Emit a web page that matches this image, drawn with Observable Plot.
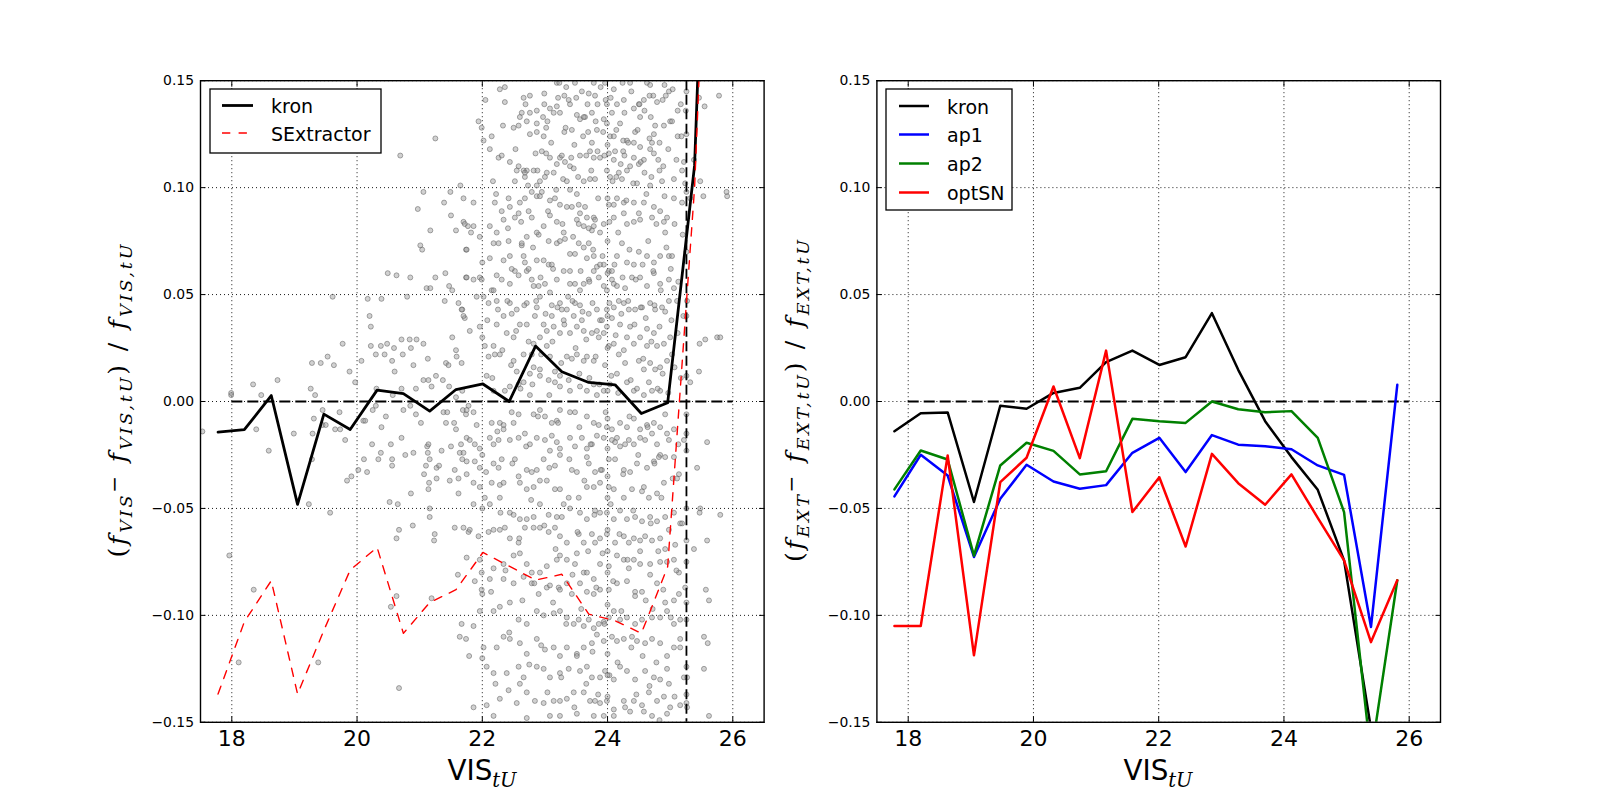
<!DOCTYPE html>
<html>
<head>
<meta charset="utf-8">
<script src="https://cdn.jsdelivr.net/npm/d3@7"></script>
<script src="https://cdn.jsdelivr.net/npm/@observablehq/plot@0.6"></script>
<style>
  html, body { margin: 0; padding: 0; background: #fff; }
  #fig { position: relative; width: 1600px; height: 802px; background: #fff; overflow: hidden; }
  #fig > .panel { position: absolute; top: 0; }
  #overlay { position: absolute; left: 0; top: 0; pointer-events: none; }
</style>
</head>
<body>
<div id="fig">
  <div class="panel" id="left" style="left:0px"></div>
  <div class="panel" id="right" style="left:800px"></div>
  <svg id="overlay" width="1600" height="802" xmlns="http://www.w3.org/2000/svg">
    <!-- y labels -->
    <text transform="translate(126,401) rotate(-90)" text-anchor="middle" font-family="DejaVu Serif" font-size="25" fill="#000" textLength="313" lengthAdjust="spacing"><tspan>(</tspan><tspan font-style="italic">f</tspan><tspan font-style="italic" font-size="17.5" dy="6">VIS</tspan><tspan font-size="20" dy="-11">−</tspan><tspan dy="5" font-style="italic"> f</tspan><tspan font-style="italic" font-size="17.5" dy="6">VIS,tU</tspan><tspan dy="-6">) / </tspan><tspan font-style="italic">f</tspan><tspan font-style="italic" font-size="17.5" dy="6">VIS,tU</tspan></text>
    <text transform="translate(803,401) rotate(-90)" text-anchor="middle" font-family="DejaVu Serif" font-size="25" fill="#000" textLength="322" lengthAdjust="spacing"><tspan>(</tspan><tspan font-style="italic">f</tspan><tspan font-style="italic" font-size="17.5" dy="6">EXT</tspan><tspan font-size="20" dy="-11">−</tspan><tspan dy="5" font-style="italic"> f</tspan><tspan font-style="italic" font-size="17.5" dy="6">EXT,tU</tspan><tspan dy="-6">) / </tspan><tspan font-style="italic">f</tspan><tspan font-style="italic" font-size="17.5" dy="6">EXT,tU</tspan></text>
    <!-- x labels -->
    <text x="482" y="780" text-anchor="middle" fill="#000"><tspan font-family="DejaVu Sans" font-size="27.8">VIS</tspan><tspan font-family="DejaVu Serif" font-style="italic" font-size="19.5" dy="7">tU</tspan></text>
    <text x="1158" y="780" text-anchor="middle" fill="#000"><tspan font-family="DejaVu Sans" font-size="27.8">VIS</tspan><tspan font-family="DejaVu Serif" font-style="italic" font-size="19.5" dy="7">tU</tspan></text>
    <!-- left legend -->
    <g font-family="DejaVu Sans" font-size="19" fill="#000">
      <rect x="210" y="89" width="171" height="64" fill="#fff" stroke="#000" stroke-width="1.3"/>
      <line x1="222" y1="105.5" x2="253" y2="105.5" stroke="#000" stroke-width="2.8"/>
      <text x="271" y="113">kron</text>
      <line x1="222" y1="133" x2="253" y2="133" stroke="#ff0000" stroke-width="1.4" stroke-dasharray="8.3,8.3"/>
      <text x="271" y="140.5">SExtractor</text>
    </g>
    <!-- right legend -->
    <g font-family="DejaVu Sans" font-size="19" fill="#000">
      <rect x="886" y="89" width="126" height="121" fill="#fff" stroke="#000" stroke-width="1.3"/>
      <line x1="899" y1="106" x2="929" y2="106" stroke="#000" stroke-width="2.5"/>
      <text x="947" y="113.5">kron</text>
      <line x1="899" y1="134.5" x2="929" y2="134.5" stroke="#0000ff" stroke-width="2.5"/>
      <text x="947" y="142">ap1</text>
      <line x1="899" y1="163.5" x2="929" y2="163.5" stroke="#008000" stroke-width="2.5"/>
      <text x="947" y="171">ap2</text>
      <line x1="899" y1="192.5" x2="929" y2="192.5" stroke="#ff0000" stroke-width="2.5"/>
      <text x="947" y="200">optSN</text>
    </g>
  </svg>
</div>
<script>
// ---------------- data ----------------
const xTicks = [18, 20, 22, 24, 26];
const yTicks = [-0.15, -0.10, -0.05, 0.00, 0.05, 0.10, 0.15];
const zeroSpan = [18, 26];
const limitMag = [25.26];

const binMag = [17.78, 18.20, 18.63, 19.05, 19.47, 19.89, 20.32, 20.74, 21.16, 21.58,
                22.01, 22.43, 22.85, 23.27, 23.70, 24.12, 24.54, 24.96, 25.39, 25.81];

// left panel
const kronVIS = [-0.0143, -0.0132, 0.0028, -0.0481, -0.0059, -0.0131, 0.0053, 0.0037, -0.0045, 0.0056,
                 0.0082, 0.0000, 0.0259, 0.0139, 0.0089, 0.0078, -0.0056, -0.0006, 0.1104, 0.45];
const sexVIS  = [-0.1368, -0.1030, -0.0838, -0.1368, -0.1070, -0.0788, -0.0682, -0.1084, -0.0940, -0.0880,
                 -0.0706, -0.0770, -0.0835, -0.0808, -0.0994, -0.1025, -0.1084, -0.0773, 0.1000, 0.40];

// right panel
const kronEXT  = [-0.0139, -0.0055, -0.0051, -0.0470, -0.0020, -0.0034, 0.0040, 0.0064, 0.0184, 0.0238,
                  0.0171, 0.0207, 0.0413, 0.0148, -0.0092, -0.0260, -0.0413, -0.0743, -0.153, null];
const ap1EXT   = [-0.0444, -0.0249, -0.0346, -0.0727, -0.0455, -0.0296, -0.0374, -0.0408, -0.0391, -0.0240,
                  -0.0170, -0.0330, -0.0157, -0.0202, -0.0209, -0.0223, -0.0299, -0.0343, -0.1054, 0.0078];
const ap2EXT   = [-0.0411, -0.0229, -0.0271, -0.0721, -0.0299, -0.0193, -0.0231, -0.0341, -0.0326, -0.0081,
                  -0.0092, -0.0100, 0.0000, -0.0036, -0.0050, -0.0045, -0.0170, -0.0517, -0.166, -0.0836];
const optSNEXT = [-0.1050, -0.1050, -0.0252, -0.1187, -0.0377, -0.0263, 0.0070, -0.0265, 0.0238, -0.0517,
                  -0.0354, -0.0678, -0.0245, -0.0382, -0.0483, -0.0341, -0.0544, -0.0743, -0.1125, -0.0836];

// individual objects: [VIS_tU magnitude, relative flux difference]
const scatterPts = [
// bright / sparse part
[17.53,-0.014],[17.99,0.003],[17.96,-0.072],[18.35,-0.088],[18.11,-0.122],[18.39,-0.013],[18.59,-0.023],[18.99,-0.015],
[19.23,-0.048],[19.28,-0.027],[19.29,-0.015],[19.31,-0.008],[19.45,-0.004],[19.45,-0.011],[19.50,-0.011],[19.57,-0.052],
[19.38,-0.122],[19.65,-0.013],[19.73,-0.013],[19.72,-0.005],[19.81,-0.018],[19.84,-0.037],[19.91,-0.035],[20.02,-0.032],
[20.10,-0.009],[20.13,-0.009],[20.11,-0.027],[20.16,-0.033],[20.24,-0.020],[20.34,-0.027],[20.38,-0.024],[20.39,-0.012],
[20.46,-0.007],[20.25,-0.004],[20.30,-0.002],[20.52,-0.047],[20.65,-0.048],[20.63,-0.064],[20.67,-0.060],[20.54,-0.020],
[20.56,-0.027],[20.56,-0.030],[20.63,-0.091],[20.54,-0.096],[20.67,-0.134],[20.71,-0.017],[20.77,-0.025],[20.74,-0.004],
[20.85,-0.002],[20.86,-0.043],[20.89,-0.058],[20.90,-0.024],[20.94,-0.006],[21.02,-0.010],[21.07,-0.034],[21.10,-0.030],
[21.12,-0.021],[21.14,-0.020],[21.13,-0.024],[21.16,-0.027],[21.15,-0.038],[21.14,-0.041],[21.16,-0.050],[21.16,-0.054],
[21.23,-0.065],[21.24,-0.062],[21.19,-0.092],[21.27,-0.031],[21.27,-0.036],[21.31,-0.030],[21.35,-0.023],[21.38,-0.005],
[21.42,-0.010],[21.44,-0.005],[21.50,-0.021],[21.48,-0.037],[21.56,-0.032],[21.62,-0.036],[21.62,-0.043],[21.64,-0.024],
[21.66,-0.020],[21.68,-0.027],[21.56,-0.059],[21.61,-0.081],[21.64,-0.110],[21.74,-0.111],[21.79,-0.119],[21.78,-0.061],
[21.58,-0.013],[21.55,-0.010],[21.69,-0.004],[21.78,-0.002],[21.74,-0.006],
[21.25,0.123],[20.69,0.115],[19.61,0.049],[19.77,0.027],[19.28,0.018],[19.42,0.018],[19.53,0.021],[19.63,0.017],
[19.88,0.014],[19.97,0.009],[18.73,0.010],[18.34,0.008],[18.47,0.003],[19.26,0.006],[19.33,0.003],[17.99,0.004],
[20.07,0.019],[20.22,0.026],[20.20,0.040],[20.17,0.048],[20.39,0.048],[20.49,0.060],[20.63,0.059],[20.85,0.058],
[20.97,0.090],[21.06,0.098],[21.49,0.098],[21.39,0.093],[21.50,0.087],[21.17,0.080],[21.01,0.073],[21.04,0.071],
[21.65,0.101],[21.70,0.084],[21.58,0.080],[21.74,0.071],[20.80,0.049],[21.11,0.053],[21.17,0.053],[21.25,0.058],
[21.41,0.060],[21.47,0.054],[21.40,0.047],[21.68,0.043],[20.22,0.035],[20.30,0.022],[20.44,0.022],[20.38,0.026],
[20.48,0.027],[20.59,0.025],[20.71,0.029],[20.84,0.029],[20.95,0.029],[21.06,0.027],[20.56,0.019],[20.60,0.014],
[20.73,0.022],[20.86,0.025],[20.90,0.017],[21.13,0.020],[21.14,0.010],[21.26,0.012],[21.37,0.010],[21.42,0.018],
[21.46,0.017],[21.52,0.030],[21.58,0.024],[21.59,0.021],[21.67,0.018],[21.47,0.007],[21.58,0.002],[21.68,0.005],
[20.31,0.006],[20.57,0.003],[20.71,0.006],[20.94,0.006],[21.06,0.010],[21.19,0.007],[21.52,0.052],[21.62,0.046],
[21.74,0.058],[21.77,0.082],
// faint part, upper half
[22.28,0.146],[22.36,0.147],[22.66,0.142],[22.76,0.143],[22.99,0.144],[23.19,0.149],[23.23,0.149],[23.34,0.147],
[23.48,0.149],[23.78,0.149],[23.96,0.149],[24.10,0.146],[24.24,0.149],[24.36,0.149],[24.63,0.149],[24.68,0.148],
[24.91,0.148],[24.98,0.145],[24.93,0.143],[24.73,0.143],[24.58,0.141],[24.50,0.139],[24.26,0.141],[24.15,0.139],
[23.99,0.139],[23.97,0.141],[23.84,0.139],[23.80,0.143],[23.70,0.144],[23.59,0.145],[23.40,0.139],[23.38,0.141],
[23.31,0.143],[23.19,0.138],[23.08,0.137],[22.99,0.139],[22.87,0.136],[22.76,0.135],[22.63,0.135],[22.36,0.140],
[21.94,0.131],[22.60,0.133],[22.87,0.130],[23.51,0.134],[23.64,0.133],[23.75,0.135],[23.94,0.132],[24.07,0.135],
[24.42,0.137],[24.51,0.139],[24.52,0.133],[24.69,0.133],[24.79,0.140],[25.00,0.131],[25.12,0.136],[25.25,0.136],
[25.55,0.138],[25.78,0.143],
[21.99,0.128],[22.02,0.122],[22.15,0.124],[22.26,0.114],[22.31,0.115],[22.50,0.128],[22.58,0.129],[22.71,0.131],
[22.76,0.125],[22.87,0.126],[22.98,0.124],[23.02,0.128],[23.04,0.131],[23.14,0.135],[23.24,0.135],[23.31,0.126],
[23.43,0.127],[23.47,0.120],[23.56,0.132],[23.62,0.133],[23.69,0.126],[23.75,0.121],[23.83,0.127],[23.93,0.126],
[23.99,0.130],[24.04,0.124],[24.10,0.124],[24.20,0.130],[24.25,0.122],[24.31,0.122],[24.42,0.121],[24.44,0.126],
[24.52,0.119],[24.67,0.123],[24.71,0.121],[24.74,0.125],[24.83,0.121],[24.90,0.129],[25.03,0.131],[25.12,0.124],
[25.18,0.124],[23.02,0.116],[22.95,0.117],[23.08,0.114],[23.24,0.114],[23.27,0.115],[23.32,0.112],[23.40,0.110],
[23.46,0.109],[23.56,0.115],[23.66,0.115],[23.72,0.117],[23.78,0.114],[23.84,0.117],[23.88,0.114],[24.02,0.116],
[24.12,0.117],[24.25,0.117],[24.27,0.115],[24.36,0.110],[24.42,0.114],[24.50,0.111],[24.58,0.113],[24.68,0.118],
[24.74,0.116],[24.83,0.108],[24.89,0.110],[25.19,0.108],[25.38,0.113],[22.44,0.112],[22.58,0.110],[22.55,0.108],
[22.71,0.108],[22.88,0.108],[23.19,0.111],[24.10,0.113],[22.66,0.108],[22.68,0.105],[22.82,0.108],
[22.17,0.103],[22.52,0.103],[22.68,0.107],[22.87,0.101],[22.92,0.103],[23.00,0.105],[23.03,0.107],[23.14,0.107],
[23.29,0.104],[23.35,0.103],[23.40,0.099],[23.51,0.097],[23.62,0.103],[23.72,0.104],[23.80,0.104],[23.99,0.108],
[24.04,0.105],[24.14,0.105],[24.18,0.107],[24.23,0.104],[24.31,0.108],[24.47,0.102],[24.59,0.107],[24.68,0.101],
[24.87,0.103],[25.06,0.104],[25.24,0.102],[25.32,0.095],[25.48,0.103],[21.70,0.095],[21.72,0.083],[21.86,0.093],
[21.86,0.082],[21.82,0.079],[21.75,0.071],[22.20,0.093],[22.31,0.089],[22.42,0.095],[22.44,0.091],[22.52,0.086],
[22.60,0.093],[22.68,0.095],[22.79,0.098],[22.87,0.096],[22.95,0.098],[22.92,0.096],[23.08,0.094],[23.16,0.095],
[23.24,0.092],[23.35,0.091],[23.43,0.091],[23.54,0.092],[23.56,0.088],[23.62,0.082],[23.67,0.086],[23.75,0.080],
[23.78,0.086],[23.88,0.079],[24.02,0.092],[24.10,0.092],[24.15,0.095],[24.26,0.093],[24.42,0.093],[24.58,0.093],
[24.74,0.091],[24.84,0.089],[24.95,0.086],[25.06,0.095],[25.19,0.093],[25.53,0.096],[25.91,0.096],[22.12,0.082],
[22.23,0.079],[22.34,0.085],[22.58,0.088],[22.74,0.089],[22.79,0.086],[22.90,0.078],[22.98,0.082],[23.08,0.087],
[23.19,0.084],[23.30,0.079],[23.51,0.085],[23.54,0.083],[23.70,0.081],[23.80,0.085],[23.94,0.083],[24.10,0.086],
[24.26,0.088],[24.31,0.083],[24.42,0.084],[24.52,0.085],[24.71,0.086],[24.90,0.084],[24.92,0.079],[21.96,0.077],
[22.18,0.074],[22.26,0.074],[22.42,0.075],[22.63,0.073],[22.71,0.077],[22.87,0.079],[23.06,0.075],[23.78,0.082],
[21.75,0.058],[21.86,0.057],[21.67,0.043],[21.72,0.039],[21.91,0.049],[21.96,0.058],[21.99,0.057],[22.12,0.067],
[22.15,0.052],[22.23,0.059],[22.34,0.066],[22.44,0.068],[22.52,0.061],[22.63,0.074],[22.66,0.068],[22.68,0.065],
[22.71,0.061],[22.79,0.057],[22.87,0.066],[22.98,0.066],[23.06,0.064],[23.11,0.064],[23.19,0.074],[23.24,0.075],
[23.32,0.076],[23.40,0.069],[23.48,0.069],[23.54,0.074],[23.62,0.072],[23.70,0.074],[23.67,0.067],[23.78,0.068],
[23.83,0.063],[23.94,0.064],[23.88,0.064],[24.02,0.061],[24.07,0.061],[24.15,0.068],[24.23,0.074],[24.31,0.065],
[24.42,0.064],[24.50,0.070],[24.63,0.068],[24.74,0.065],[24.84,0.068],[24.98,0.068],[25.03,0.068],[23.40,0.055],
[23.48,0.055],[23.56,0.052],[23.62,0.055],[23.70,0.057],[23.78,0.061],[23.86,0.058],[23.94,0.054],[23.99,0.052],
[24.07,0.057],[24.10,0.055],[24.15,0.054],[24.28,0.053],[24.39,0.058],[24.52,0.058],[24.63,0.054],[24.74,0.060],
[24.84,0.055],[24.98,0.057],[25.06,0.053],[22.74,0.062],[22.82,0.054],[22.90,0.054],[23.08,0.051],[23.19,0.057],
[23.30,0.061],[23.40,0.061],[22.58,0.059],[22.44,0.055],[22.31,0.057],[22.18,0.052],[22.02,0.049],[22.10,0.046],
[22.23,0.047],[22.44,0.046],[22.55,0.043],[22.71,0.046],[22.87,0.044],[22.92,0.049],[23.00,0.055],[23.11,0.045],
[23.24,0.046],[23.27,0.043],[23.35,0.043],[23.48,0.046],[23.56,0.045],[23.70,0.041],[23.83,0.043],[23.99,0.043],
[24.10,0.044],[24.18,0.047],[24.26,0.046],[24.34,0.043],[24.44,0.043],[24.55,0.044],[24.68,0.046],[24.76,0.043],
[24.87,0.044],[24.98,0.047],[25.11,0.047],[25.27,0.047],[25.56,0.029],[25.75,0.030],
[21.70,0.040],[21.80,0.033],[21.96,0.035],[22.04,0.026],[22.10,0.021],[22.18,0.026],[22.20,0.022],[22.28,0.022],
[22.50,0.019],[22.55,0.014],[22.66,0.022],[22.71,0.036],[22.79,0.022],[22.82,0.016],[22.92,0.015],[23.03,0.026],
[23.08,0.021],[23.16,0.014],[23.24,0.012],[23.35,0.021],[23.43,0.020],[23.51,0.022],[23.62,0.019],[23.67,0.021],
[23.78,0.019],[23.83,0.033],[23.86,0.030],[23.94,0.032],[24.02,0.026],[24.10,0.027],[24.18,0.022],[24.26,0.024],
[24.31,0.030],[24.36,0.035],[24.42,0.027],[24.50,0.019],[24.58,0.015],[24.68,0.018],[24.76,0.015],[24.84,0.016],
[24.95,0.019],[25.03,0.022],[22.07,0.012],[22.18,0.005],[22.36,0.005],[22.44,0.007],[22.58,0.008],[22.66,0.009],
[22.76,0.013],[22.92,0.012],[23.06,0.010],[23.16,0.009],[23.24,0.007],[23.40,0.005],[23.56,0.007],[23.67,0.005],
[23.78,0.008],[23.83,0.003],[23.94,0.005],[24.04,0.008],[24.15,0.013],[24.31,0.009],[24.42,0.005],[24.58,0.003],
[24.71,0.005],[24.84,0.005],[23.03,0.033],[23.14,0.035],[23.24,0.032],[23.40,0.032],[23.51,0.035],[23.62,0.033],
[23.75,0.032],[22.92,0.030],[22.82,0.027],[22.50,0.030],[22.39,0.032],[22.23,0.036],[22.34,0.040],[22.47,0.041],
[22.60,0.036],[22.84,0.040],[22.98,0.036],[23.11,0.040],[23.30,0.038],[23.46,0.040],[23.59,0.038],[23.88,0.038],
[23.99,0.035],[24.07,0.039],[24.20,0.036],[24.63,0.034],[24.74,0.032],[24.90,0.027],[25.00,0.030],[24.63,0.026],
[24.52,0.030],[24.79,0.026],[25.46,0.014],[25.32,0.009],
[22.05,0.141],[22.12,0.118],[22.22,0.097],[22.33,0.129],[22.41,0.081],[22.47,0.062],[22.53,0.118],[22.62,0.084],
[22.69,0.139],[22.73,0.101],[22.81,0.072],[22.85,0.116],[22.93,0.058],[22.97,0.133],[23.05,0.089],[23.10,0.121],
[23.13,0.062],[23.18,0.099],[23.21,0.142],[23.28,0.083],[23.33,0.128],[23.37,0.049],[23.42,0.114],[23.45,0.077],
[23.50,0.142],[23.53,0.105],[23.57,0.061],[23.61,0.124],[23.64,0.091],[23.68,0.139],[23.71,0.056],[23.74,0.108],
[23.77,0.071],[23.81,0.131],[23.85,0.095],[23.89,0.147],[23.92,0.068],[23.95,0.115],[24.03,0.084],[24.05,0.142],
[24.08,0.103],[24.11,0.064],[24.14,0.127],[24.17,0.079],[24.21,0.111],[24.24,0.058],[24.27,0.135],[24.30,0.094],
[24.33,0.121],[24.35,0.071],[24.38,0.145],[24.41,0.102],[24.45,0.057],[24.48,0.127],[24.50,0.088],[24.53,0.112],
[24.56,0.064],[24.59,0.136],[24.62,0.097],[24.65,0.075],[24.67,0.143],[24.70,0.105],[24.73,0.061],[24.76,0.129],
[24.78,0.083],[24.81,0.113],[24.85,0.052],[24.88,0.141],[24.91,0.096],[24.94,0.072],[24.97,0.118],[25.01,0.062],
[25.04,0.146],[25.07,0.083],[25.10,0.113],[25.13,0.056],[25.17,0.139],[25.20,0.078],[25.22,0.112],
[22.08,0.038],[22.16,0.011],[22.25,0.043],[22.32,0.024],[22.40,0.047],[22.46,0.017],[22.54,0.033],[22.61,0.006],
[22.67,0.045],[22.74,0.028],[22.80,0.008],[22.86,0.047],[22.94,0.022],[23.01,0.041],[23.07,0.003],[23.12,0.028],
[23.20,0.044],[23.26,0.018],[23.31,0.036],[23.38,0.010],[23.44,0.047],[23.49,0.025],[23.55,0.013],[23.60,0.042],
[23.66,0.029],[23.71,0.011],[23.76,0.046],[23.81,0.021],[23.87,0.008],[23.91,0.038],[23.96,0.017],[24.03,0.046],
[24.06,0.012],[24.13,0.031],[24.17,0.004],[24.22,0.041],[24.28,0.018],[24.33,0.047],[24.37,0.010],[24.43,0.036],
[24.47,0.006],[24.53,0.044],[24.57,0.020],[24.61,0.039],[24.66,0.009],[24.70,0.028],[24.75,0.045],[24.80,0.006],
[24.83,0.035],[24.88,0.013],[24.92,0.042],[24.97,0.004],[25.02,0.038],[25.07,0.016],[25.12,0.032],[25.17,0.011],
[25.21,0.040],
// faint part, lower half
[21.75,-0.004],[21.86,-0.005],[21.91,-0.011],[22.15,-0.010],[22.28,-0.010],[22.34,-0.011],[22.47,-0.005],[22.50,-0.010],
[22.58,-0.006],[22.76,0.003],[22.82,-0.006],[22.92,-0.004],[23.00,-0.007],[23.11,-0.010],[23.19,-0.009],[23.24,-0.004],
[23.40,-0.005],[23.48,-0.005],[23.67,-0.007],[23.78,-0.010],[23.86,-0.011],[23.99,-0.012],[24.07,-0.013],[24.20,-0.010],
[24.31,-0.012],[24.42,-0.008],[24.52,-0.013],[24.63,-0.011],[24.74,-0.010],[24.84,-0.012],[24.95,-0.015],[25.06,-0.013],
[21.75,-0.017],[21.80,-0.018],[21.88,-0.020],[21.96,-0.022],[22.12,-0.017],[22.18,-0.020],[22.26,-0.018],[22.34,-0.013],
[22.44,-0.018],[22.58,-0.017],[22.68,-0.015],[22.76,-0.020],[22.87,-0.017],[23.00,-0.018],[23.11,-0.016],[23.19,-0.019],
[23.24,-0.022],[23.40,-0.017],[23.48,-0.021],[23.59,-0.017],[23.67,-0.022],[23.75,-0.020],[23.83,-0.016],[23.94,-0.017],
[24.07,-0.018],[24.15,-0.017],[24.20,-0.021],[24.28,-0.020],[24.34,-0.018],[24.42,-0.020],[24.52,-0.017],[24.60,-0.018],
[24.71,-0.015],[24.79,-0.020],[24.84,-0.025],[24.98,-0.018],[25.22,-0.018],[25.59,-0.019],
[21.70,-0.024],[21.75,-0.028],[21.88,-0.028],[21.96,-0.031],[22.18,-0.029],[22.26,-0.031],[22.31,-0.027],[22.52,-0.027],
[22.58,-0.035],[22.71,-0.032],[22.79,-0.033],[22.87,-0.032],[22.98,-0.027],[23.08,-0.023],[23.16,-0.030],[23.24,-0.025],
[23.43,-0.032],[23.51,-0.033],[23.67,-0.026],[23.70,-0.029],[23.80,-0.033],[23.91,-0.032],[24.02,-0.027],[24.12,-0.027],
[24.26,-0.032],[24.36,-0.033],[24.47,-0.029],[24.63,-0.031],[24.74,-0.028],[24.82,-0.026],[24.92,-0.026],[25.06,-0.026],
[25.14,-0.034],[25.43,-0.031],
[21.75,-0.034],[21.86,-0.038],[21.96,-0.040],[22.15,-0.038],[22.28,-0.039],[22.34,-0.038],[22.60,-0.038],[22.71,-0.041],
[22.82,-0.040],[22.92,-0.037],[23.03,-0.037],[23.16,-0.041],[23.24,-0.041],[23.38,-0.045],[23.54,-0.045],[23.67,-0.040],
[23.78,-0.040],[23.88,-0.038],[24.02,-0.040],[24.10,-0.041],[24.26,-0.045],[24.39,-0.041],[24.55,-0.042],[24.66,-0.045],
[24.79,-0.043],[24.90,-0.038],[25.11,-0.036],
[21.86,-0.048],[22.04,-0.045],[22.12,-0.048],[22.28,-0.045],[22.44,-0.052],[22.50,-0.053],[22.60,-0.055],[22.71,-0.055],
[22.82,-0.054],[22.92,-0.048],[23.06,-0.053],[23.19,-0.054],[23.27,-0.054],[23.40,-0.050],[23.56,-0.052],[23.67,-0.055],
[23.80,-0.051],[23.88,-0.052],[23.99,-0.052],[24.10,-0.055],[24.20,-0.051],[24.31,-0.055],[24.44,-0.054],[24.55,-0.056],
[24.68,-0.054],[24.79,-0.056],[24.92,-0.054],[25.06,-0.052],[25.16,-0.057],[25.48,-0.050],
[21.70,-0.059],[21.80,-0.060],[21.94,-0.063],[22.18,-0.060],[22.28,-0.060],[22.36,-0.059],[22.44,-0.064],[22.58,-0.066],
[22.68,-0.059],[22.82,-0.059],[22.92,-0.059],[23.06,-0.061],[23.16,-0.059],[23.24,-0.063],[23.35,-0.066],[23.54,-0.062],
[23.62,-0.066],[23.75,-0.062],[23.80,-0.066],[23.88,-0.064],[23.99,-0.062],[24.12,-0.066],[24.26,-0.063],[24.34,-0.066],
[24.42,-0.064],[24.52,-0.065],[24.60,-0.063],[24.71,-0.065],[24.84,-0.064],[24.92,-0.069],[25.08,-0.067],[25.38,-0.069],
[25.59,-0.065],
[21.75,-0.073],[21.96,-0.074],[21.99,-0.080],[22.18,-0.078],[22.34,-0.076],[22.50,-0.072],[22.60,-0.071],[22.71,-0.076],
[22.79,-0.080],[22.92,-0.080],[23.03,-0.077],[23.19,-0.074],[23.24,-0.072],[23.35,-0.074],[23.48,-0.076],[23.51,-0.071],
[23.62,-0.080],[23.67,-0.080],[23.78,-0.083],[23.88,-0.076],[24.02,-0.077],[24.15,-0.072],[24.26,-0.074],[24.34,-0.078],
[24.42,-0.074],[24.52,-0.076],[24.68,-0.076],[24.84,-0.075],[24.95,-0.075],[25.06,-0.074],[25.14,-0.080],
[21.88,-0.084],[21.99,-0.088],[22.12,-0.083],[22.34,-0.083],[22.50,-0.085],[22.66,-0.082],[22.79,-0.085],[22.90,-0.090],
[23.03,-0.087],[23.08,-0.086],[23.22,-0.087],[23.24,-0.088],[23.35,-0.085],[23.43,-0.090],[23.56,-0.085],[23.67,-0.089],
[23.78,-0.090],[23.88,-0.088],[24.02,-0.088],[24.15,-0.085],[24.31,-0.084],[24.44,-0.089],[24.55,-0.089],[24.68,-0.081],
[24.79,-0.085],[24.92,-0.094],[25.06,-0.093],[25.14,-0.090],[25.62,-0.093],
[21.67,-0.104],[21.86,-0.105],[21.96,-0.098],[22.18,-0.098],[22.28,-0.096],[22.44,-0.094],[22.58,-0.102],[22.71,-0.104],
[22.87,-0.098],[22.98,-0.100],[23.14,-0.099],[23.24,-0.098],[23.35,-0.101],[23.46,-0.104],[23.54,-0.102],[23.62,-0.105],
[23.70,-0.102],[23.78,-0.106],[23.86,-0.104],[23.94,-0.103],[24.02,-0.101],[24.10,-0.098],[24.20,-0.102],[24.31,-0.101],
[24.44,-0.104],[24.55,-0.102],[24.71,-0.101],[24.84,-0.101],[24.95,-0.098],[25.06,-0.104],[25.16,-0.102],
[22.02,-0.115],[22.23,-0.115],[22.34,-0.110],[22.44,-0.111],[22.60,-0.113],[22.71,-0.118],[22.87,-0.111],[23.00,-0.116],
[23.14,-0.115],[23.24,-0.119],[23.35,-0.115],[23.51,-0.118],[23.62,-0.115],[23.75,-0.113],[23.83,-0.109],[23.94,-0.112],
[24.07,-0.110],[24.15,-0.112],[24.26,-0.111],[24.39,-0.110],[24.47,-0.112],[24.60,-0.113],[24.71,-0.111],[24.84,-0.113],
[24.95,-0.119],[25.06,-0.115],[25.16,-0.115],[25.54,-0.110],
[22.07,-0.124],[22.18,-0.127],[22.39,-0.127],[22.58,-0.124],[22.66,-0.129],[22.87,-0.124],[22.98,-0.125],[23.08,-0.129],
[23.24,-0.127],[23.38,-0.125],[23.51,-0.119],[23.56,-0.126],[23.67,-0.124],[23.75,-0.129],[23.88,-0.129],[23.96,-0.126],
[24.10,-0.130],[24.20,-0.124],[24.31,-0.126],[24.44,-0.130],[24.60,-0.126],[24.74,-0.129],[24.84,-0.130],[24.98,-0.132],
[25.27,-0.129],
[21.86,-0.143],[22.07,-0.142],[22.28,-0.139],[22.42,-0.135],[22.60,-0.132],[22.71,-0.136],[22.84,-0.140],[22.98,-0.141],
[23.14,-0.140],[23.24,-0.140],[23.35,-0.139],[23.46,-0.136],[23.62,-0.136],[23.72,-0.140],[23.80,-0.140],[23.88,-0.141],
[23.99,-0.140],[24.10,-0.144],[24.26,-0.140],[24.42,-0.140],[24.55,-0.142],[24.66,-0.136],[24.79,-0.140],[24.90,-0.138],
[25.00,-0.143],[25.16,-0.142],[25.27,-0.143],[25.62,-0.147],[22.18,-0.147],[22.71,-0.148],[23.08,-0.147],[23.24,-0.147],
[23.51,-0.146],[23.78,-0.147],[23.94,-0.147],[24.10,-0.147],[24.36,-0.145],[24.58,-0.145],[24.71,-0.147],[24.95,-0.146],
[22.06,-0.033],[22.10,-0.061],[22.14,-0.089],[22.21,-0.132],[22.24,-0.014],[22.29,-0.052],[22.37,-0.079],[22.43,-0.108],
[22.48,-0.029],[22.55,-0.141],[22.59,-0.064],[22.64,-0.093],[22.70,-0.021],[22.75,-0.123],[22.78,-0.046],[22.83,-0.085],
[22.89,-0.007],[22.94,-0.114],[22.99,-0.058],[23.04,-0.136],[23.07,-0.031],[23.13,-0.094],[23.17,-0.069],[23.21,-0.010],
[23.26,-0.129],[23.30,-0.048],[23.34,-0.104],[23.39,-0.027],[23.44,-0.081],[23.47,-0.143],[23.52,-0.061],[23.55,-0.012],
[23.58,-0.097],[23.63,-0.037],[23.66,-0.132],[23.69,-0.070],[23.73,-0.020],[23.76,-0.117],[23.79,-0.053],[23.82,-0.087],
[23.85,-0.137],[23.89,-0.032],[23.92,-0.071],[23.95,-0.104],[23.97,-0.005],[24.03,-0.128],[24.05,-0.048],[24.09,-0.084],
[24.12,-0.019],[24.16,-0.122],[24.19,-0.062],[24.22,-0.098],[24.25,-0.034],[24.28,-0.143],[24.32,-0.074],[24.35,-0.007],
[24.38,-0.115],[24.41,-0.051],[24.44,-0.091],[24.46,-0.137],[24.49,-0.025],[24.52,-0.070],[24.56,-0.119],[24.58,-0.040],
[24.61,-0.093],[24.64,-0.012],[24.67,-0.133],[24.69,-0.057],[24.72,-0.097],[24.75,-0.029],[24.78,-0.122],[24.81,-0.070],
[24.83,-0.149],[24.86,-0.045],[24.89,-0.088],[24.92,-0.006],[24.95,-0.125],[24.98,-0.060],[25.01,-0.101],[25.04,-0.036],
[25.07,-0.138],[25.10,-0.079],[25.13,-0.020],[25.16,-0.111],[25.19,-0.057],[25.22,-0.129],[25.24,-0.087],
// objects piled up at the same magnitudes
[24.00,0.120],[24.00,0.095],[24.00,0.075],[24.00,0.060],[24.00,0.040],[24.00,0.025],[24.00,0.005],[24.00,-0.008],
[24.00,-0.022],[24.00,-0.035],[24.00,-0.045],[24.00,-0.060],[24.00,-0.070],[24.00,-0.080],[24.00,-0.095],[24.00,-0.118],
[24.00,-0.128],[24.00,-0.138],
[25.26,0.145],[25.26,0.125],[25.26,0.098],[25.26,0.070],[25.26,0.040],[25.26,0.012],[25.26,-0.006],[25.26,-0.015],
[25.26,-0.023],[25.26,-0.050],[25.26,-0.065],[25.26,-0.075],[25.26,-0.094],[25.26,-0.102],[25.26,-0.124],[25.26,-0.137],
[25.26,-0.141],
[22.00,0.065],[22.00,0.030],[22.00,-0.025],[22.00,-0.050],[22.00,-0.090],[22.00,-0.120],
[25.46,0.142],[25.90,0.098],[25.80,0.030],[25.47,0.027],[25.47,-0.052],[25.80,-0.053],[25.57,-0.088],[25.60,-0.113],[25.54,-0.125]
];

// ---------------- helpers ----------------
const rows = (vals) => binMag.map((m, i) => ({m, v: vals[i]}));
const fmtY = d3.format(".2f");
const gridStyle = {stroke: "#000", strokeOpacity: 1, strokeWidth: 0.9, strokeDasharray: "1,3"};

function gridMarks() {
  return [
    Plot.gridX(xTicks, gridStyle),
    Plot.gridY(yTicks, gridStyle)
  ];
}
function axisMarks() {
  return [
    Plot.frame({stroke: "#000", strokeWidth: 1.4}),
    Plot.axisX(xTicks, {anchor: "bottom", tickSize: 0, tickPadding: 8.5, fontSize: 22, tickFormat: d => String(d), label: null}),
    Plot.axisX(xTicks, {anchor: "bottom", tickSize: 5.5, dy: -5.5, tickFormat: () => "", label: null}),
    Plot.axisX(xTicks, {anchor: "top", tickSize: 5.5, dy: 5.5, tickFormat: () => "", label: null}),
    Plot.axisY(yTicks, {anchor: "left", tickSize: 0, tickPadding: 6.5, fontSize: 13.9, tickFormat: fmtY, label: null}),
    Plot.axisY(yTicks, {anchor: "left", tickSize: 5.5, dx: 5.5, tickFormat: () => "", label: null}),
    Plot.axisY(yTicks, {anchor: "right", tickSize: 5.5, dx: -5.5, tickFormat: () => "", label: null})
  ];
}
const common = {
  width: 800, height: 802, marginTop: 80.2, marginBottom: 80.2,
  x: {domain: [17.5, 26.5]},
  y: {domain: [-0.15, 0.15]},
  style: {fontFamily: "DejaVu Sans", background: "transparent", overflow: "visible", color: "#000"}
};

// ---------------- left panel ----------------
const left = Plot.plot({
  ...common,
  marginLeft: 200, marginRight: 36.4,
  marks: [
    ...gridMarks(),
    Plot.dot(scatterPts, {x: d => d[0], y: d => d[1], r: 2.5, fill: "#9a9a9a", fillOpacity: 0.45,
      stroke: "#555", strokeOpacity: 0.55, strokeWidth: 0.9, clip: true}),
    Plot.ruleY([0], {x1: zeroSpan[0], x2: zeroSpan[1], stroke: "#000", strokeWidth: 2, strokeDasharray: "11,5"}),
    Plot.ruleX(limitMag, {stroke: "#000", strokeWidth: 1.8, strokeDasharray: "10,4.5"}),
    Plot.line(rows(kronVIS), {x: "m", y: "v", stroke: "#000", strokeWidth: 2.8, clip: true}),
    Plot.line(rows(sexVIS), {x: "m", y: "v", stroke: "#ff0000", strokeWidth: 1.4, strokeDasharray: "8.3,8.3", clip: true}),
    ...axisMarks()
  ]
});
document.getElementById("left").appendChild(left);

// ---------------- right panel ----------------
const right = Plot.plot({
  ...common,
  marginLeft: 76.4, marginRight: 160,
  marks: [
    ...gridMarks(),
    Plot.ruleY([0], {x1: zeroSpan[0], x2: zeroSpan[1], stroke: "#000", strokeWidth: 2, strokeDasharray: "11,5"}),
    Plot.line(rows(kronEXT), {x: "m", y: "v", stroke: "#000", strokeWidth: 2.5, clip: true}),
    Plot.line(rows(ap1EXT), {x: "m", y: "v", stroke: "#0000ff", strokeWidth: 2.5, clip: true}),
    Plot.line(rows(ap2EXT), {x: "m", y: "v", stroke: "#008000", strokeWidth: 2.5, clip: true}),
    Plot.line(rows(optSNEXT), {x: "m", y: "v", stroke: "#ff0000", strokeWidth: 2.5, clip: true}),
    ...axisMarks()
  ]
});
document.getElementById("right").appendChild(right);
</script>
</body>
</html>
